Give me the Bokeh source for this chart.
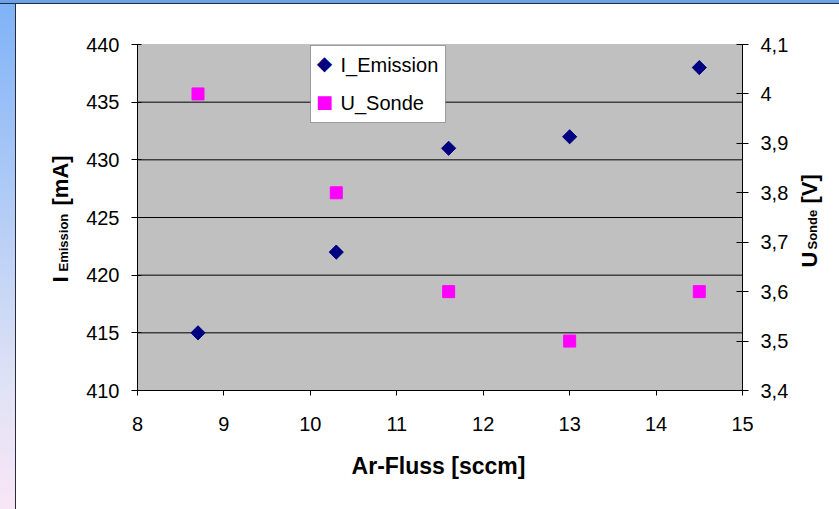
from bokeh.plotting import figure
from bokeh.models import (Range1d, LinearAxis, FixedTicker, CustomJSTickFormatter,
                          BoxAnnotation, Label, Div)
from bokeh.layouts import column, row
from bokeh.embed import file_html
from bokeh.resources import INLINE
import math

# Measured values
flow_sccm = [8.7, 10.3, 11.6, 13.0, 14.5]
i_emission = [415, 422, 431, 432, 438]
u_sonde = [4.0, 3.8, 3.6, 3.5, 3.6]

x_ticks = [8, 9, 10, 11, 12, 13, 14, 15]
left_ticks = [410, 415, 420, 425, 430, 435, 440]
right_ticks = [3.4, 3.5, 3.6, 3.7, 3.8, 3.9, 4.0, 4.1]

X_LIM = (8, 15)
I_LIM = (410, 440)
U_LIM = (3.4, 4.1)

FONT = "Liberation Sans"
W, H = 823, 505
# plot-area edges on the canvas (pixels from the left / top)
PL, PR, PT, PB = 121, 726, 40, 386
# labels render this many pixels below their nominal baseline
TEXT_SHIFT = 8

# The frame spans the whole canvas; axes sit at fixed data positions so that
# the titles and legend around the plot area are drawn inside the frame.
sx = (X_LIM[1] - X_LIM[0]) / (PR - PL)
si = (I_LIM[1] - I_LIM[0]) / (PB - PT)
su = (U_LIM[1] - U_LIM[0]) / (PB - PT)
x_range = Range1d(X_LIM[0] - PL * sx, X_LIM[1] + (W - PR) * sx)
y_range = Range1d(I_LIM[0] - (H - PB) * si, I_LIM[1] + PT * si)
u_range = Range1d(U_LIM[0] - (H - PB) * su, U_LIM[1] + PT * su)

p = figure(width=W, height=H, output_backend="svg", toolbar_location=None,
           title=None, x_range=x_range, y_range=y_range,
           min_border=0, min_border_left=0, min_border_right=0,
           min_border_top=0, min_border_bottom=0,
           background_fill_color="white", border_fill_color="white")
p.outline_line_color = None
p.extra_y_ranges = {"u": u_range}
p.xgrid.visible = False
p.ygrid.visible = False


def dx(px):
    return x_range.start + px * sx


def dy(py):
    return y_range.end - py * si


# grey plot area
p.add_layout(BoxAnnotation(left=X_LIM[0], right=X_LIM[1], bottom=I_LIM[0], top=I_LIM[1],
                           fill_color="#C0C0C0", fill_alpha=1,
                           line_color="#808080", line_width=1, level="image"))

# horizontal grid lines limited to the plot area
grid_y = left_ticks[1:-1]
p.segment(x0=[X_LIM[0]] * len(grid_y), x1=[X_LIM[1]] * len(grid_y),
          y0=grid_y, y1=grid_y, line_color="black", line_width=1)

xa = p.xaxis[0]
xa.fixed_location = I_LIM[0]
xa.bounds = X_LIM
xa.ticker = FixedTicker(ticks=x_ticks)
xa.major_tick_in = 0
xa.major_tick_out = 5

ya = p.yaxis[0]
ya.fixed_location = X_LIM[0]
ya.bounds = I_LIM
ya.ticker = FixedTicker(ticks=left_ticks)
ya.major_tick_in = 4
ya.major_tick_out = 6

ra = LinearAxis(y_range_name="u", ticker=FixedTicker(ticks=right_ticks),
                fixed_location=X_LIM[1], bounds=U_LIM)
ra.formatter = CustomJSTickFormatter(code="""
    const s = (Math.round(tick * 10) / 10).toString();
    return s.replace('.', ',');
""")
ra.major_tick_in = 6
ra.major_tick_out = 6
p.add_layout(ra, "right")

for ax in (xa, ya, ra):
    ax.axis_line_color = "black"
    ax.major_tick_line_color = "black"
    ax.minor_tick_line_color = None
    ax.major_label_text_font = FONT
    ax.major_label_text_font_size = "20px"
    ax.major_label_text_color = "black"
xa.major_label_standoff = 21
ya.major_label_standoff = 12
ra.major_label_standoff = 12

p.scatter(flow_sccm, i_emission, marker="square", size=10, angle=math.pi / 4,
          fill_color="#000080", line_color="#000080")
p.scatter(flow_sccm, u_sonde, marker="square", size=12, y_range_name="u",
          fill_color="#FF00FF", line_color="#FF00FF")


def text(s, x, y, size, angle=0.0, align="left", baseline="alphabetic",
         bold=True, color="black", font=FONT):
    if angle:
        x -= TEXT_SHIFT
    else:
        y -= TEXT_SHIFT
    p.add_layout(Label(x=dx(x), y=dy(y), text=s, angle=angle, text_align=align,
                       text_baseline=baseline, text_font=font,
                       text_font_size=size,
                       text_font_style="bold" if bold else "normal",
                       text_color=color))


# legend
p.add_layout(BoxAnnotation(left=dx(294), right=dx(429), top=dy(41), bottom=dy(118),
                           fill_color="white", fill_alpha=1,
                           line_color="black", line_width=1))
text("\u25C6", 308, 66, "20px", align="center", baseline="middle", bold=False,
     color="#000080", font="DejaVu Sans")
text("\u25A0", 308, 105, "18px", align="center", baseline="middle", bold=False,
     color="#FF00FF", font="DejaVu Sans")
text("I_Emission", 324, 68, "20px", bold=False)
text("U_Sonde", 324, 106, "20px", bold=False)

# x axis title
text("Ar-Fluss [sccm]", 422, 469, "23px", align="center")

# left axis title with subscript
text("I", 52, 278, "22px", angle=math.pi / 2)
text("Emission", 55, 267, "13px", angle=math.pi / 2)
text("[mA]", 52, 201, "22px", angle=math.pi / 2)

# right axis title with subscript
text("U", 801, 263, "22px", angle=math.pi / 2)
text("Sonde", 804, 245, "13px", angle=math.pi / 2)
text("[V]", 801, 199, "22px", angle=math.pi / 2)

top_strip = Div(width=839, height=4, margin=0,
                styles={"background": "linear-gradient(to bottom, #6aa3ec 3px, #2a2a3a 3px)"})
left_strip = Div(width=16, height=505, margin=0,
                 styles={"background": "linear-gradient(to right, rgba(0,0,0,0) 15px, #2a2a3a 15px), "
                                       "linear-gradient(to bottom, #7fb3f7, #dfe2f5 75%, #f8e6f6)"})
layout = column(top_strip, row(left_strip, p, spacing=0, margin=0), spacing=0, margin=0)

open("out.html", "w").write(file_html(layout, INLINE))
